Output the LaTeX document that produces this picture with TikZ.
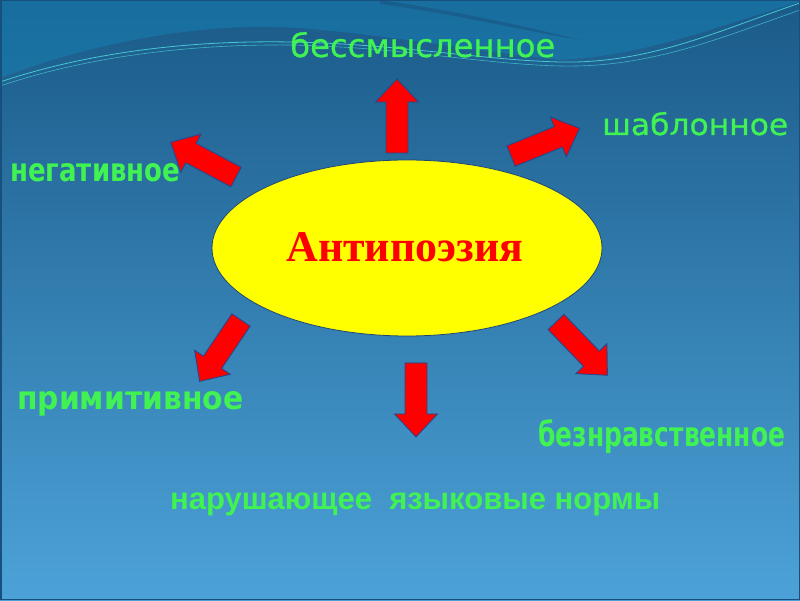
\documentclass[tikz,border=0pt]{standalone}
\usepackage{fontspec}
\usepackage{graphicx}
\usetikzlibrary{shapes.geometric}
\newfontfamily\comicfont{DejaVu Sans}
\newfontfamily\comicheavy[FakeBold=0.8]{DejaVu Sans}
\newfontfamily\arialfont{Liberation Sans}
\newfontfamily\timesfont{Liberation Serif}
\definecolor{bgtop}{RGB}{26,90,136}
\definecolor{bgmid}{RGB}{45,128,180}
\definecolor{bgbot}{RGB}{76,162,216}
\definecolor{wavelight}{RGB}{22,128,178}
\definecolor{wavedark}{RGB}{24,80,125}
\definecolor{waveline}{RGB}{70,200,210}
\definecolor{txtgreen}{RGB}{64,242,82}
\definecolor{arrowred}{RGB}{255,0,0}
\definecolor{arrowedge}{RGB}{40,70,140}
\definecolor{ellyellow}{RGB}{255,255,0}
\definecolor{elledge}{RGB}{30,70,120}
\newcommand\fitbox[3]{\resizebox{#1pt}{#2pt}{#3}}
\newcommand\fitwidth[2]{\resizebox{#1pt}{!}{#2}}
\tikzset{
  blockarrow/.style={draw=arrowedge, fill=arrowred, line width=0.9pt, line join=miter},
  lbl/.style={inner sep=0pt, text=txtgreen, anchor=base west},
  centreoval/.style={ellipse, draw=elledge, fill=ellyellow, line width=0.8pt,
    minimum width=390pt, minimum height=176pt, inner sep=0pt}
}
% block arrow: tail centre x, y, direction angle
\newcommand\redarrow[3]{%
  \path[blockarrow, shift={(#1,#2)}, rotate=#3]
    (0,-11) -- (51,-11) -- (51,-21.5) -- (74,0) -- (51,21.5) -- (51,11) -- (0,11) -- cycle;}
\begin{document}
\begin{tikzpicture}[x=1pt,y=1pt]
\useasboundingbox (0,0) rectangle (800,600);
% background
\shade[top color=bgtop, middle color=bgmid, bottom color=bgbot] (0,0) rectangle (800,600);
\fill[wavelight, opacity=0.55] (0,600) -- (0,522) .. controls (100,560) and (200,575) .. (275,573)
  .. controls (360,570) and (450,552) .. (560,540) .. controls (650,545) and (720,575) .. (800,598)
  -- (800,600) -- cycle;
\fill[wavedark, opacity=0.5] (380,600) .. controls (450,590) and (520,575) .. (580,560)
  .. controls (520,570) and (460,585) .. (380,596) -- cycle;
\draw[waveline, line width=0.8pt] (0,518) .. controls (80,545) and (180,560) .. (290,558)
  .. controls (400,556) and (480,540) .. (560,538) .. controls (650,536) and (720,570) .. (800,597);
\draw[waveline, line width=0.6pt, opacity=0.8] (0,514) .. controls (80,541) and (180,556) .. (290,555)
  .. controls (400,553) and (480,536) .. (560,534) .. controls (650,532) and (720,562) .. (800,590);
\draw[wavedark, line width=1.5pt] (0.75,0.75) rectangle (799.25,599.25);
% central ellipse
\node[centreoval] (centre) at (407,352) {};
\node[inner sep=0pt, text=arrowred, anchor=base] (title) at (405,338)
  {\fitwidth{237}{\timesfont\bfseries Антипоэзия}};
% arrows
\redarrow{397}{447}{90}
\redarrow{236}{423}{152}
\redarrow{511}{444}{22}
\redarrow{241}{280}{236}
\redarrow{416}{237}{270}
\redarrow{556}{278}{314}
% labels
\node[lbl] (l1) at (290,543) {\fitbox{265}{25}{\comicheavy бессмысленное}};
\node[lbl] (l2) at (602,465) {\fitbox{186}{23}{\comicheavy шаблонное}};
\node[lbl] (l3) at (10,418) {\fitbox{170}{18}{\comicfont\bfseries негативное}};
\node[lbl] (l4) at (17,190) {\fitbox{226}{18}{\comicfont\bfseries примитивное}};
\node[lbl] (l5) at (538,153) {\fitbox{247}{27}{\comicfont\bfseries безнравственное}};
\node[lbl] (l6) at (170,91) {\fitwidth{490}{\arialfont\bfseries нарушающее~ языковые нормы}};
\end{tikzpicture}
\end{document}
